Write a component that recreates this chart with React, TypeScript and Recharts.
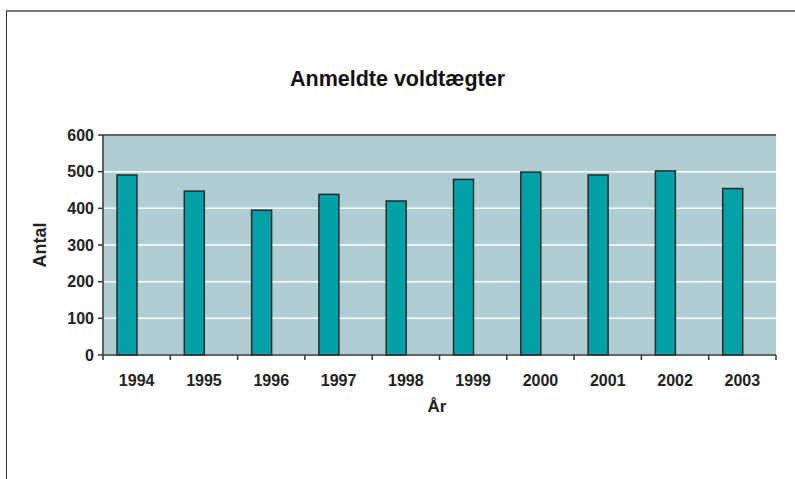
import { BarChart, Bar, XAxis, YAxis, CartesianGrid, ReferenceLine } from 'recharts';

const years = ['1994', '1995', '1996', '1997', '1998', '1999', '2000', '2001', '2002', '2003'];
const counts = [491, 447, 395, 438, 420, 479, 499, 491, 502, 454];
const yTicks = [0, 100, 200, 300, 400, 500, 600];

const data = years.map((year, i) => ({ year, count: counts[i] }));

const W = 795;
const H = 479;
const margin = { top: 135, right: 19, bottom: 94, left: 43 };
const plotW = W - margin.left - margin.right - 60;
const band = plotW / years.length;
const font = '"Liberation Sans", Arial, sans-serif';

function YearTick(props: any) {
  const { x, y, payload, index } = props;
  return (
    <g>
      <line x1={x - band / 2} x2={x - band / 2} y1={y} y2={y + 5} stroke="#333" strokeWidth={1.5} />
      {index === years.length - 1 && (
        <line x1={x + band / 2} x2={x + band / 2} y1={y} y2={y + 5} stroke="#333" strokeWidth={1.5} />
      )}
      <text x={x} y={y + 31} textAnchor="middle" fontFamily={font} fontWeight="bold" fontSize={16} fill="#222">
        {payload.value}
      </text>
    </g>
  );
}

function OffsetBar(props: any) {
  const { x, y, width, height } = props;
  return (
    <rect x={x - width / 2} y={y} width={width} height={height} fill="#00A0A8" stroke="#2a2a2a" strokeWidth={1.5} />
  );
}

export default function App() {
  return (
    <div style={{ position: 'absolute', left: 0, top: 0, width: W, height: H, background: '#fff', overflow: 'hidden' }}>
      <div style={{ position: 'absolute', left: 6, top: 10, width: W, height: H, borderLeft: '1.5px solid #333', borderTop: '2px solid #777' }} />
      <div style={{ position: 'absolute', left: 0, width: W, top: 67, textAlign: 'center', fontFamily: font, fontWeight: 'bold', fontSize: 21.5, color: '#111' }}>
        Anmeldte voldtægter
      </div>
      <div style={{ position: 'absolute', left: 437, top: 397, transform: 'translateX(-50%)', fontFamily: font, fontWeight: 'bold', fontSize: 17, color: '#222' }}>
        År
      </div>
      <div style={{ position: 'absolute', left: 40, top: 245, transform: 'translate(-50%, -50%) rotate(-90deg)', fontFamily: font, fontWeight: 'bold', fontSize: 18, color: '#222' }}>
        Antal
      </div>
      <div style={{ position: 'absolute', left: 0, top: 0 }}>
        <BarChart width={W} height={H} data={data} margin={margin} barSize={20}>
          <CartesianGrid vertical={false} fill="#AFCED4" stroke="#ffffff" strokeWidth={1.5} />
          <XAxis
            dataKey="year"
            height={30}
            tickSize={0}
            tickMargin={0}
            tickLine={false}
            axisLine={{ stroke: '#333', strokeWidth: 1.5 }}
            tick={<YearTick />}
            interval={0}
          />
          <YAxis
            width={60}
            domain={[0, 600]}
            ticks={yTicks}
            tickSize={5}
            tickMargin={4}
            tickLine={{ stroke: '#333', strokeWidth: 1.5 }}
            axisLine={{ stroke: '#333', strokeWidth: 1.5 }}
            tick={{ fontFamily: font, fontWeight: 'bold', fontSize: 16, fill: '#222' }}
          />
          <YAxis yAxisId="right" orientation="right" width={0} tick={false} tickLine={false} axisLine={{ stroke: '#333', strokeWidth: 1.5 }} />
          <ReferenceLine y={600} stroke="#333" strokeWidth={1.5} />
          <Bar dataKey="count" isAnimationActive={false} shape={<OffsetBar />} />
        </BarChart>
      </div>
    </div>
  );
}
